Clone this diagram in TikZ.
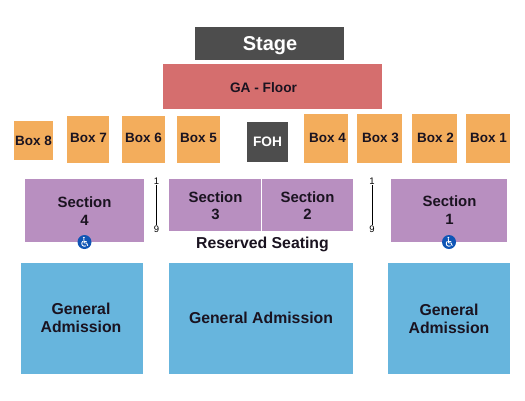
\documentclass[tikz,border=0pt]{standalone}
\usepackage{fontspec}
\setmainfont{Liberation Sans}
\definecolor{stagec}{HTML}{4D4D4D}
\definecolor{floorc}{HTML}{D56E6E}
\definecolor{boxc}{HTML}{F3AD5C}
\definecolor{secc}{HTML}{B88FC0}
\definecolor{gac}{HTML}{67B5DD}
\definecolor{wheelc}{HTML}{0F55B5}
\definecolor{inkc}{HTML}{1A1320}
\newcommand{\blockat}[6][]{\node[#2,minimum width=#4-#3,minimum height=#6-#5,#1] at ({(#3+#4)/2},{(#5+#6)/2})}
\tikzset{
  x=1pt,y=-1pt,
  blockbase/.style={inner sep=0pt,align=center,text=inkc,font=\bfseries},
  stageblock/.style={blockbase,fill=stagec,text=white},
  floorblock/.style={blockbase,fill=floorc,font=\bfseries\fontsize{13.7}{16}\selectfont},
  boxblock/.style={blockbase,fill=boxc,font=\bfseries\fontsize{13.5}{16}\selectfont},
  secblock/.style={blockbase,fill=secc,font=\bfseries\fontsize{14.9}{17.5}\selectfont},
  gablock/.style={blockbase,fill=gac,font=\bfseries\fontsize{15.8}{18}\selectfont},
  rownum/.style={inner sep=0.5pt,text=black,font=\fontsize{9.5}{10}\selectfont},
  rowline/.style={draw=black,line width=1pt},
  wheelbadge/.style={circle,fill=wheelc,minimum size=14pt,inner sep=0pt},
  wheelstroke/.style={draw=white,line width=0.9pt,line cap=round,line join=round},
}
\newcommand{\wheelmark}[2]{%
  \node[wheelbadge] (#1) at (#2) {};
  \begin{scope}[shift={(#1.center)}]
    \fill[white] (-0.6,-4.2) circle (1);
    \draw[wheelstroke] (-0.6,-2.6) -- (-0.3,1) -- (2.1,1) -- (3.2,3.6);
    \draw[wheelstroke] (-0.4,-1) -- (1.8,-1);
    \draw[wheelstroke] (-1.8,-0.65) arc[start angle=230,end angle=60,radius=2.8];
  \end{scope}}
\begin{document}
\begin{tikzpicture}
\useasboundingbox[fill=white] (0,0) rectangle (525,400);
\blockat{stageblock}{195}{344}{27}{60} (stage) {};
\node[blockbase,text=white,font=\bfseries\fontsize{20}{22}\selectfont] (stagetxt) at (270,45.5) {Stage};
\blockat{floorblock}{163}{382}{64}{109} (floor) {};
\node[floorblock,fill=none] (floortxt) at (263.5,87.5) {GA - Floor};
\blockat{boxblock}{14}{53}{121}{160} (b8) {Box 8};
\blockat{boxblock}{67}{109}{116}{163} (b7) {};
\node[boxblock,fill=none] (t7) at (88.5,138) {Box 7};
\blockat{boxblock}{122}{165}{116}{163} (b6) {};
\node[boxblock,fill=none] (t6) at (143.5,138) {Box 6};
\blockat{boxblock}{177}{220}{116}{163} (b5) {};
\node[boxblock,fill=none] (t5) at (198.5,138) {Box 5};
\blockat[font=\bfseries\fontsize{13.7}{16}\selectfont]{stageblock}{247}{288}{122}{162} (foh) {FOH};
\blockat{boxblock}{304}{348}{114}{163} (b4) {};
\node[boxblock,fill=none] (t4) at (327.5,138) {Box 4};
\blockat{boxblock}{357}{402}{114}{163} (b3) {};
\node[boxblock,fill=none] (t3) at (380.5,138) {Box 3};
\blockat{boxblock}{412}{457}{114}{163} (b2) {};
\node[boxblock,fill=none] (t2) at (435.5,138) {Box 2};
\blockat{boxblock}{466}{510}{114}{163} (b1) {};
\node[boxblock,fill=none] (t1) at (488.5,138) {Box 1};
\blockat{secblock}{25}{144}{179}{242} (s4) {};
\node[secblock,fill=none] (st4) at (84.5,211) {Section\\4};
\blockat{secblock}{169}{261}{179}{231} (s3) {};
\node[secblock,fill=none] (st3) at (215.5,205.5) {Section\\3};
\blockat{secblock}{262}{353}{179}{231} (s2) {};
\node[secblock,fill=none] (st2) at (307.5,205.5) {Section\\2};
\blockat{secblock}{391}{507}{179}{242} (s1) {};
\node[secblock,fill=none] (st1) at (449.5,210) {Section\\1};
\node[blockbase,font=\bfseries\fontsize{15.8}{18}\selectfont] (rs) at (262.5,244.5) {Reserved Seating};
\blockat{gablock}{21}{143}{263}{374} (ga1) {};
\node[gablock,fill=none] (gt1) at (81,318) {General\\Admission};
\blockat{gablock}{169}{353}{263}{374} (ga2) {};
\node[gablock,fill=none] (gt2) at (261,318) {General Admission};
\blockat{gablock}{388}{510}{263}{374} (ga3) {};
\node[gablock,fill=none] (gt3) at (449,318.5) {General\\Admission};
\node[rownum] (l1) at (156.5,181) {1};
\node[rownum] (l9) at (156.5,229) {9};
\draw[rowline] (l1) -- (l9);
\node[rownum] (r1) at (372,181) {1};
\node[rownum] (r9) at (372,229) {9};
\draw[rowline] (r1) -- (r9);
\wheelmark{w4}{84.5,242}
\wheelmark{w1}{449,242}
\end{tikzpicture}
\end{document}
